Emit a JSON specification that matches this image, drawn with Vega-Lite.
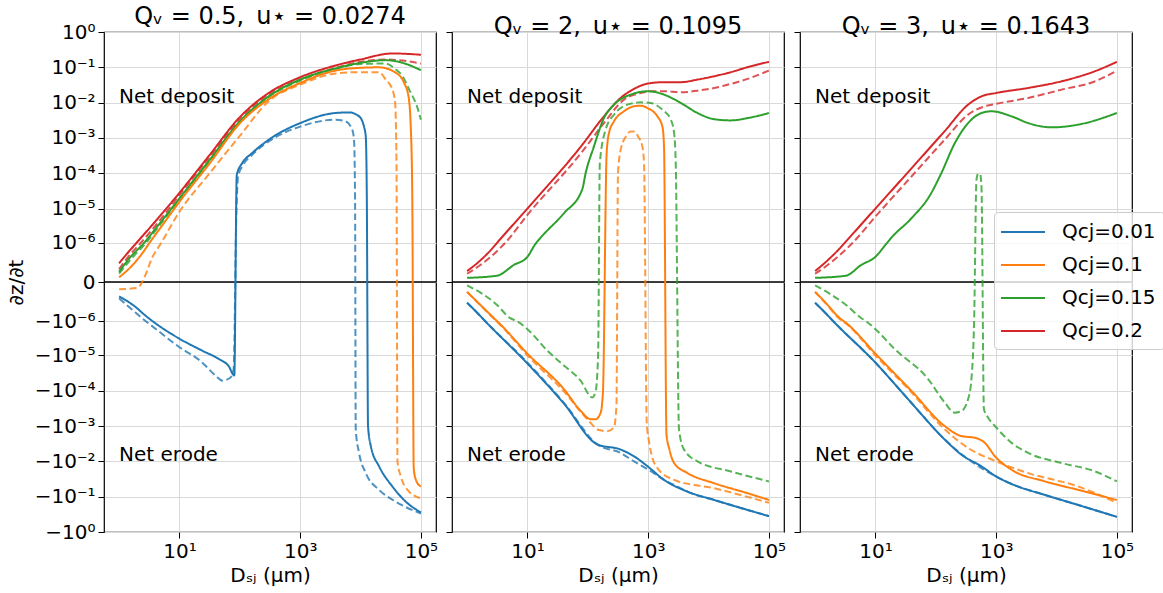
{
"$schema": "https://vega.github.io/schema/vega-lite/v6.json",
"padding": {"left": 5, "top": 4, "right": 5, "bottom": 0},
"config": {
  "font": "DejaVu Sans",
  "view": {"stroke": "black", "strokeWidth": 1.2},
  "axis": {"labelFontSize": 20, "titleFontSize": 20, "labelColor": "black", "titleColor": "black", "tickColor": "black", "tickSize": 6, "domain": false, "gridColor": "#d9d9d9", "gridWidth": 1, "labelFont": "DejaVu Sans", "titleFont": "DejaVu Sans", "titleFontWeight": "normal", "labelPadding": 3, "labelOverlap": false},
  "title": {"fontSize": 24, "font": "DejaVu Sans", "fontWeight": "normal", "color": "black", "offset": -7, "anchor": "middle", "frame": "group"},
  "legend": {"fillColor": "rgba(255,255,255,0.8)", "strokeColor": "#cccccc", "cornerRadius": 4, "padding": 8, "labelFontSize": 20, "labelFont": "DejaVu Sans", "labelColor": "black", "symbolStrokeWidth": 2, "symbolType": "M-2,0H2", "symbolSize": 484, "symbolOffset": 9, "rowPadding": 11, "labelOffset": 27}
},
"datasets": {"d": [
{"p":1,"c":"0.2","d":"s","x":1,"y":2e-7},{"p":1,"c":"0.2","d":"s","x":1.33,"y":4.3e-7},{"p":1,"c":"0.2","d":"s","x":1.95,"y":1e-6},{"p":1,"c":"0.2","d":"s","x":4,"y":4.3e-6},{"p":1,"c":"0.2","d":"s","x":10,"y":2.8e-5},{"p":1,"c":"0.2","d":"s","x":31.6,"y":3.3e-4},{"p":1,"c":"0.2","d":"s","x":100,"y":3.9e-3},{"p":1,"c":"0.2","d":"s","x":301,"y":0.0188},{"p":1,"c":"0.2","d":"s","x":1000,"y":0.0525},{"p":1,"c":"0.2","d":"s","x":3860,"y":0.113},{"p":1,"c":"0.2","d":"s","x":10000,"y":0.167},{"p":1,"c":"0.2","d":"s","x":33800,"y":0.247},{"p":1,"c":"0.2","d":"s","x":100000,"y":0.227},
{"p":1,"c":"0.2","d":"d","x":1,"y":1.1e-7},{"p":1,"c":"0.2","d":"d","x":1.42,"y":3.5e-7},{"p":1,"c":"0.2","d":"d","x":2.3,"y":1e-6},{"p":1,"c":"0.2","d":"d","x":4,"y":3.2e-6},{"p":1,"c":"0.2","d":"d","x":10,"y":2.4e-5},{"p":1,"c":"0.2","d":"d","x":31.6,"y":2.9e-4},{"p":1,"c":"0.2","d":"d","x":100,"y":3.4e-3},{"p":1,"c":"0.2","d":"d","x":301,"y":0.0169},{"p":1,"c":"0.2","d":"d","x":1000,"y":0.0451},{"p":1,"c":"0.2","d":"d","x":3860,"y":0.097},{"p":1,"c":"0.2","d":"d","x":10000,"y":0.143},{"p":1,"c":"0.2","d":"d","x":26200,"y":0.167},{"p":1,"c":"0.2","d":"d","x":50000,"y":0.155},{"p":1,"c":"0.2","d":"d","x":100000,"y":0.128},
{"p":1,"c":"0.15","d":"s","x":1,"y":8e-8},{"p":1,"c":"0.15","d":"s","x":1.5,"y":3.2e-7},{"p":1,"c":"0.15","d":"s","x":2.6,"y":1e-6},{"p":1,"c":"0.15","d":"s","x":4,"y":2.6e-6},{"p":1,"c":"0.15","d":"s","x":10,"y":1.95e-5},{"p":1,"c":"0.15","d":"s","x":31.6,"y":2.4e-4},{"p":1,"c":"0.15","d":"s","x":100,"y":2.95e-3},{"p":1,"c":"0.15","d":"s","x":301,"y":0.0151},{"p":1,"c":"0.15","d":"s","x":1000,"y":0.045},{"p":1,"c":"0.15","d":"s","x":3860,"y":0.093},{"p":1,"c":"0.15","d":"s","x":10000,"y":0.134},{"p":1,"c":"0.15","d":"s","x":26200,"y":0.16},{"p":1,"c":"0.15","d":"s","x":49600,"y":0.134},{"p":1,"c":"0.15","d":"s","x":100000,"y":0.083},
{"p":1,"c":"0.15","d":"d","x":1,"y":6e-8},{"p":1,"c":"0.15","d":"d","x":1.6,"y":3e-7},{"p":1,"c":"0.15","d":"d","x":2.8,"y":1e-6},{"p":1,"c":"0.15","d":"d","x":4,"y":2.3e-6},{"p":1,"c":"0.15","d":"d","x":10,"y":1.75e-5},{"p":1,"c":"0.15","d":"d","x":31.6,"y":2.2e-4},{"p":1,"c":"0.15","d":"d","x":100,"y":2.8e-3},{"p":1,"c":"0.15","d":"d","x":301,"y":0.0145},{"p":1,"c":"0.15","d":"d","x":1000,"y":0.042},{"p":1,"c":"0.15","d":"d","x":3860,"y":0.09},{"p":1,"c":"0.15","d":"d","x":10000,"y":0.125},{"p":1,"c":"0.15","d":"d","x":26200,"y":0.128},{"p":1,"c":"0.15","d":"d","x":38400,"y":0.087},{"p":1,"c":"0.15","d":"d","x":49600,"y":0.056},{"p":1,"c":"0.15","d":"d","x":64000,"y":0.0234},{"p":1,"c":"0.15","d":"d","x":88100,"y":0.007},{"p":1,"c":"0.15","d":"d","x":100000,"y":0.0033},
{"p":1,"c":"0.1","d":"s","x":1,"y":3e-8},{"p":1,"c":"0.1","d":"s","x":1.6,"y":1.5e-7},{"p":1,"c":"0.1","d":"s","x":2.4,"y":4.5e-7},{"p":1,"c":"0.1","d":"s","x":3.2,"y":1e-6},{"p":1,"c":"0.1","d":"s","x":5,"y":3e-6},{"p":1,"c":"0.1","d":"s","x":10,"y":1.56e-5},{"p":1,"c":"0.1","d":"s","x":31.6,"y":1.9e-4},{"p":1,"c":"0.1","d":"s","x":100,"y":2.6e-3},{"p":1,"c":"0.1","d":"s","x":301,"y":0.0125},{"p":1,"c":"0.1","d":"s","x":1000,"y":0.036},{"p":1,"c":"0.1","d":"s","x":3860,"y":0.081},{"p":1,"c":"0.1","d":"s","x":10000,"y":0.097},{"p":1,"c":"0.1","d":"s","x":20300,"y":0.1},{"p":1,"c":"0.1","d":"s","x":38400,"y":0.07},{"p":1,"c":"0.1","d":"s","x":52800,"y":0.036},{"p":1,"c":"0.1","d":"s","x":62300,"y":0.015},{"p":1,"c":"0.1","d":"s","x":68200,"y":0.0017},{"p":1,"c":"0.1","d":"s","x":72000,"y":2e-5},{"p":1,"c":"0.1","d":"s","x":76000,"y":-0.0155},{"p":1,"c":"0.1","d":"s","x":82600,"y":-0.0334},{"p":1,"c":"0.1","d":"s","x":100000,"y":-0.0518},
{"p":1,"c":"0.1","d":"d","x":1,"y":-5e-8},{"p":1,"c":"0.1","d":"d","x":2,"y":-4e-8},{"p":1,"c":"0.1","d":"d","x":2.69,"y":4e-8},{"p":1,"c":"0.1","d":"d","x":3.47,"y":3e-7},{"p":1,"c":"0.1","d":"d","x":5,"y":1e-6},{"p":1,"c":"0.1","d":"d","x":10,"y":8.1e-6},{"p":1,"c":"0.1","d":"d","x":31.6,"y":1e-4},{"p":1,"c":"0.1","d":"d","x":100,"y":1.15e-3},{"p":1,"c":"0.1","d":"d","x":301,"y":0.011},{"p":1,"c":"0.1","d":"d","x":1000,"y":0.0325},{"p":1,"c":"0.1","d":"d","x":3860,"y":0.067},{"p":1,"c":"0.1","d":"d","x":10000,"y":0.073},{"p":1,"c":"0.1","d":"d","x":20300,"y":0.073},{"p":1,"c":"0.1","d":"d","x":26200,"y":0.045},{"p":1,"c":"0.1","d":"d","x":33800,"y":0.0234},{"p":1,"c":"0.1","d":"d","x":37400,"y":0.0098},{"p":1,"c":"0.1","d":"d","x":39400,"y":1.9e-4},{"p":1,"c":"0.1","d":"d","x":40900,"y":-0.01},{"p":1,"c":"0.1","d":"d","x":46500,"y":-0.0268},{"p":1,"c":"0.1","d":"d","x":60000,"y":-0.0645},{"p":1,"c":"0.1","d":"d","x":100000,"y":-0.112},
{"p":1,"c":"0.01","d":"s","x":1,"y":-1.3e-7},{"p":1,"c":"0.01","d":"s","x":1.83,"y":-3.3e-7},{"p":1,"c":"0.01","d":"s","x":2.69,"y":-6.5e-7},{"p":1,"c":"0.01","d":"s","x":3.6,"y":-1e-6},{"p":1,"c":"0.01","d":"s","x":10,"y":-3.3e-6},{"p":1,"c":"0.01","d":"s","x":23.5,"y":-7.2e-6},{"p":1,"c":"0.01","d":"s","x":44.5,"y":-1.25e-5},{"p":1,"c":"0.01","d":"s","x":65.2,"y":-2e-5},{"p":1,"c":"0.01","d":"s","x":81,"y":-3.7e-5},{"p":1,"c":"0.01","d":"s","x":89,"y":9e-5},{"p":1,"c":"0.01","d":"s","x":109,"y":1.92e-4},{"p":1,"c":"0.01","d":"s","x":159,"y":3.7e-4},{"p":1,"c":"0.01","d":"s","x":301,"y":8.9e-4},{"p":1,"c":"0.01","d":"s","x":1000,"y":2.64e-3},{"p":1,"c":"0.01","d":"s","x":3860,"y":5.1e-3},{"p":1,"c":"0.01","d":"s","x":6440,"y":5.3e-3},{"p":1,"c":"0.01","d":"s","x":9450,"y":4.1e-3},{"p":1,"c":"0.01","d":"s","x":11400,"y":2.1e-3},{"p":1,"c":"0.01","d":"s","x":12200,"y":1.1e-3},{"p":1,"c":"0.01","d":"s","x":12700,"y":2.2e-5},{"p":1,"c":"0.01","d":"s","x":13300,"y":-1e-3},{"p":1,"c":"0.01","d":"s","x":14800,"y":-3.7e-3},{"p":1,"c":"0.01","d":"s","x":20300,"y":-0.0139},{"p":1,"c":"0.01","d":"s","x":33800,"y":-0.0518},{"p":1,"c":"0.01","d":"s","x":56300,"y":-0.139},{"p":1,"c":"0.01","d":"s","x":100000,"y":-0.28},
{"p":1,"c":"0.01","d":"d","x":1,"y":-1.6e-7},{"p":1,"c":"0.01","d":"d","x":1.61,"y":-4.1e-7},{"p":1,"c":"0.01","d":"d","x":2.52,"y":-8.7e-7},{"p":1,"c":"0.01","d":"d","x":3.25,"y":-1.25e-6},{"p":1,"c":"0.01","d":"d","x":10,"y":-5.8e-6},{"p":1,"c":"0.01","d":"d","x":23.5,"y":-1.55e-5},{"p":1,"c":"0.01","d":"d","x":39.2,"y":-3.7e-5},{"p":1,"c":"0.01","d":"d","x":51.5,"y":-5.2e-5},{"p":1,"c":"0.01","d":"d","x":69.5,"y":-4.3e-5},{"p":1,"c":"0.01","d":"d","x":79,"y":-2.4e-5},{"p":1,"c":"0.01","d":"d","x":87.5,"y":5.9e-6},{"p":1,"c":"0.01","d":"d","x":93.3,"y":8e-5},{"p":1,"c":"0.01","d":"d","x":109,"y":1.55e-4},{"p":1,"c":"0.01","d":"d","x":159,"y":3.3e-4},{"p":1,"c":"0.01","d":"d","x":301,"y":8e-4},{"p":1,"c":"0.01","d":"d","x":1000,"y":2.1e-3},{"p":1,"c":"0.01","d":"d","x":3860,"y":3.3e-3},{"p":1,"c":"0.01","d":"d","x":5660,"y":2.95e-3},{"p":1,"c":"0.01","d":"d","x":7310,"y":1.7e-3},{"p":1,"c":"0.01","d":"d","x":7800,"y":8.9e-4},{"p":1,"c":"0.01","d":"d","x":8110,"y":2.2e-5},{"p":1,"c":"0.01","d":"d","x":8320,"y":-1.24e-3},{"p":1,"c":"0.01","d":"d","x":9450,"y":-5.8e-3},{"p":1,"c":"0.01","d":"d","x":12200,"y":-0.0215},{"p":1,"c":"0.01","d":"d","x":20300,"y":-0.0645},{"p":1,"c":"0.01","d":"d","x":38400,"y":-0.139},{"p":1,"c":"0.01","d":"d","x":100000,"y":-0.3},
{"p":2,"c":"0.2","d":"s","x":1,"y":8.7e-8},{"p":2,"c":"0.2","d":"s","x":1.66,"y":2.6e-7},{"p":2,"c":"0.2","d":"s","x":2.43,"y":5.7e-7},{"p":2,"c":"0.2","d":"s","x":3.34,"y":1.14e-6},{"p":2,"c":"0.2","d":"s","x":10,"y":1e-5},{"p":2,"c":"0.2","d":"s","x":80.8,"y":6.4e-4},{"p":2,"c":"0.2","d":"s","x":185,"y":4.1e-3},{"p":2,"c":"0.2","d":"s","x":350,"y":0.0136},{"p":2,"c":"0.2","d":"s","x":583,"y":0.0245},{"p":2,"c":"0.2","d":"s","x":982,"y":0.0347},{"p":2,"c":"0.2","d":"s","x":1830,"y":0.038},{"p":2,"c":"0.2","d":"s","x":3470,"y":0.038},{"p":2,"c":"0.2","d":"s","x":6560,"y":0.045},{"p":2,"c":"0.2","d":"s","x":12400,"y":0.056},{"p":2,"c":"0.2","d":"s","x":23400,"y":0.073},{"p":2,"c":"0.2","d":"s","x":44400,"y":0.101},{"p":2,"c":"0.2","d":"s","x":100000,"y":0.143},
{"p":2,"c":"0.2","d":"d","x":1,"y":6e-8},{"p":2,"c":"0.2","d":"d","x":1.66,"y":1.7e-7},{"p":2,"c":"0.2","d":"d","x":3,"y":5e-7},{"p":2,"c":"0.2","d":"d","x":4.3,"y":1e-6},{"p":2,"c":"0.2","d":"d","x":10,"y":6.6e-6},{"p":2,"c":"0.2","d":"d","x":80.8,"y":4.1e-4},{"p":2,"c":"0.2","d":"d","x":185,"y":2.64e-3},{"p":2,"c":"0.2","d":"d","x":397,"y":0.0122},{"p":2,"c":"0.2","d":"d","x":752,"y":0.0188},{"p":2,"c":"0.2","d":"d","x":1100,"y":0.021},{"p":2,"c":"0.2","d":"d","x":1830,"y":0.021},{"p":2,"c":"0.2","d":"d","x":3470,"y":0.0196},{"p":2,"c":"0.2","d":"d","x":6560,"y":0.0219},{"p":2,"c":"0.2","d":"d","x":12400,"y":0.026},{"p":2,"c":"0.2","d":"d","x":23400,"y":0.034},{"p":2,"c":"0.2","d":"d","x":44400,"y":0.047},{"p":2,"c":"0.2","d":"d","x":100000,"y":0.081},
{"p":2,"c":"0.15","d":"s","x":1,"y":2.6e-8},{"p":2,"c":"0.15","d":"s","x":3.13,"y":4.3e-8},{"p":2,"c":"0.15","d":"s","x":5.93,"y":1.7e-7},{"p":2,"c":"0.15","d":"s","x":10,"y":3.5e-7},{"p":2,"c":"0.15","d":"s","x":13.5,"y":9.1e-7},{"p":2,"c":"0.15","d":"s","x":16.4,"y":1.4e-6},{"p":2,"c":"0.15","d":"s","x":40.1,"y":7.3e-6},{"p":2,"c":"0.15","d":"s","x":80.8,"y":3.5e-5},{"p":2,"c":"0.15","d":"s","x":91.9,"y":1e-4},{"p":2,"c":"0.15","d":"s","x":126,"y":5.7e-4},{"p":2,"c":"0.15","d":"s","x":185,"y":3.66e-3},{"p":2,"c":"0.15","d":"s","x":271,"y":8.8e-3},{"p":2,"c":"0.15","d":"s","x":513,"y":0.0169},{"p":2,"c":"0.15","d":"s","x":982,"y":0.021},{"p":2,"c":"0.15","d":"s","x":1830,"y":0.0169},{"p":2,"c":"0.15","d":"s","x":3470,"y":0.0098},{"p":2,"c":"0.15","d":"s","x":6560,"y":5.1e-3},{"p":2,"c":"0.15","d":"s","x":12400,"y":3.4e-3},{"p":2,"c":"0.15","d":"s","x":23400,"y":3.15e-3},{"p":2,"c":"0.15","d":"s","x":44400,"y":3.66e-3},{"p":2,"c":"0.15","d":"s","x":100000,"y":5.1e-3},
{"p":2,"c":"0.15","d":"d","x":1,"y":-2e-8},{"p":2,"c":"0.15","d":"d","x":3.13,"y":-2.9e-7},{"p":2,"c":"0.15","d":"d","x":5.1,"y":-7.9e-7},{"p":2,"c":"0.15","d":"d","x":6.7,"y":-1e-6},{"p":2,"c":"0.15","d":"d","x":10,"y":-1.73e-6},{"p":2,"c":"0.15","d":"d","x":21.2,"y":-7.2e-6},{"p":2,"c":"0.15","d":"d","x":40.1,"y":-1.93e-5},{"p":2,"c":"0.15","d":"d","x":76,"y":-5.2e-5},{"p":2,"c":"0.15","d":"d","x":118,"y":-1.55e-4},{"p":2,"c":"0.15","d":"d","x":134,"y":-1.1e-4},{"p":2,"c":"0.15","d":"d","x":148,"y":-1e-5},{"p":2,"c":"0.15","d":"d","x":158,"y":1.9e-4},{"p":2,"c":"0.15","d":"d","x":197,"y":1.71e-3},{"p":2,"c":"0.15","d":"d","x":271,"y":4.56e-3},{"p":2,"c":"0.15","d":"d","x":452,"y":8.8e-3},{"p":2,"c":"0.15","d":"d","x":752,"y":0.0102},{"p":2,"c":"0.15","d":"d","x":1100,"y":9.8e-3},{"p":2,"c":"0.15","d":"d","x":1720,"y":6.3e-3},{"p":2,"c":"0.15","d":"d","x":2370,"y":3.3e-3},{"p":2,"c":"0.15","d":"d","x":2690,"y":1.37e-3},{"p":2,"c":"0.15","d":"d","x":2860,"y":1.9e-4},{"p":2,"c":"0.15","d":"d","x":3240,"y":-1.24e-3},{"p":2,"c":"0.15","d":"d","x":3920,"y":-4.64e-3},{"p":2,"c":"0.15","d":"d","x":6560,"y":-0.01},{"p":2,"c":"0.15","d":"d","x":23400,"y":-0.0193},{"p":2,"c":"0.15","d":"d","x":100000,"y":-0.037},
{"p":2,"c":"0.1","d":"s","x":1,"y":-7.6e-8},{"p":2,"c":"0.1","d":"s","x":1.66,"y":-2.9e-7},{"p":2,"c":"0.1","d":"s","x":2.76,"y":-7.9e-7},{"p":2,"c":"0.1","d":"s","x":3.57,"y":-1.25e-6},{"p":2,"c":"0.1","d":"s","x":10,"y":-8.9e-6},{"p":2,"c":"0.1","d":"s","x":40.1,"y":-9e-5},{"p":2,"c":"0.1","d":"s","x":75.8,"y":-3.7e-4},{"p":2,"c":"0.1","d":"s","x":111,"y":-6.4e-4},{"p":2,"c":"0.1","d":"s","x":135,"y":-6.4e-4},{"p":2,"c":"0.1","d":"s","x":163,"y":-4.2e-4},{"p":2,"c":"0.1","d":"s","x":178,"y":-1.1e-4},{"p":2,"c":"0.1","d":"s","x":205,"y":3.7e-4},{"p":2,"c":"0.1","d":"s","x":224,"y":1.37e-3},{"p":2,"c":"0.1","d":"s","x":271,"y":2.95e-3},{"p":2,"c":"0.1","d":"s","x":397,"y":5.7e-3},{"p":2,"c":"0.1","d":"s","x":583,"y":7.9e-3},{"p":2,"c":"0.1","d":"s","x":752,"y":8.2e-3},{"p":2,"c":"0.1","d":"s","x":970,"y":7.05e-3},{"p":2,"c":"0.1","d":"s","x":1420,"y":4.1e-3},{"p":2,"c":"0.1","d":"s","x":1720,"y":2.1e-3},{"p":2,"c":"0.1","d":"s","x":1830,"y":5.7e-4},{"p":2,"c":"0.1","d":"s","x":2010,"y":-1.73e-3},{"p":2,"c":"0.1","d":"s","x":2250,"y":-4.64e-3},{"p":2,"c":"0.1","d":"s","x":2690,"y":-0.0112},{"p":2,"c":"0.1","d":"s","x":4480,"y":-0.0215},{"p":2,"c":"0.1","d":"s","x":12400,"y":-0.0416},{"p":2,"c":"0.1","d":"s","x":44400,"y":-0.08},{"p":2,"c":"0.1","d":"s","x":100000,"y":-0.124},
{"p":2,"c":"0.1","d":"d","x":1,"y":-7.6e-8},{"p":2,"c":"0.1","d":"d","x":1.66,"y":-3e-7},{"p":2,"c":"0.1","d":"d","x":2.76,"y":-8.2e-7},{"p":2,"c":"0.1","d":"d","x":3.57,"y":-1.3e-6},{"p":2,"c":"0.1","d":"d","x":10,"y":-1e-5},{"p":2,"c":"0.1","d":"d","x":40.1,"y":-1.05e-4},{"p":2,"c":"0.1","d":"d","x":98,"y":-6.4e-4},{"p":2,"c":"0.1","d":"d","x":153,"y":-1.3e-3},{"p":2,"c":"0.1","d":"d","x":210,"y":-1.4e-3},{"p":2,"c":"0.1","d":"d","x":271,"y":-1.1e-3},{"p":2,"c":"0.1","d":"d","x":298,"y":-2.7e-4},{"p":2,"c":"0.1","d":"d","x":316,"y":1e-4},{"p":2,"c":"0.1","d":"d","x":350,"y":4.6e-4},{"p":2,"c":"0.1","d":"d","x":427,"y":1.1e-3},{"p":2,"c":"0.1","d":"d","x":513,"y":1.53e-3},{"p":2,"c":"0.1","d":"d","x":590,"y":1.53e-3},{"p":2,"c":"0.1","d":"d","x":680,"y":1.1e-3},{"p":2,"c":"0.1","d":"d","x":800,"y":5.8e-4},{"p":2,"c":"0.1","d":"d","x":854,"y":1.9e-4},{"p":2,"c":"0.1","d":"d","x":946,"y":-8e-4},{"p":2,"c":"0.1","d":"d","x":1040,"y":-3e-3},{"p":2,"c":"0.1","d":"d","x":1150,"y":-7e-3},{"p":2,"c":"0.1","d":"d","x":1420,"y":-0.0155},{"p":2,"c":"0.1","d":"d","x":2690,"y":-0.0334},{"p":2,"c":"0.1","d":"d","x":12400,"y":-0.058},{"p":2,"c":"0.1","d":"d","x":100000,"y":-0.149},
{"p":2,"c":"0.01","d":"s","x":1,"y":-2.4e-7},{"p":2,"c":"0.01","d":"s","x":1.47,"y":-5.4e-7},{"p":2,"c":"0.01","d":"s","x":2,"y":-1e-6},{"p":2,"c":"0.01","d":"s","x":10,"y":-1.7e-5},{"p":2,"c":"0.01","d":"s","x":40.1,"y":-2.3e-4},{"p":2,"c":"0.01","d":"s","x":143,"y":-3.3e-3},{"p":2,"c":"0.01","d":"s","x":350,"y":-4.64e-3},{"p":2,"c":"0.01","d":"s","x":583,"y":-7.2e-3},{"p":2,"c":"0.01","d":"s","x":982,"y":-0.0139},{"p":2,"c":"0.01","d":"s","x":1830,"y":-0.0334},{"p":2,"c":"0.01","d":"s","x":4480,"y":-0.072},{"p":2,"c":"0.01","d":"s","x":12400,"y":-0.124},{"p":2,"c":"0.01","d":"s","x":100000,"y":-0.356},
{"p":2,"c":"0.01","d":"d","x":1,"y":-2.4e-7},{"p":2,"c":"0.01","d":"d","x":1.47,"y":-5.4e-7},{"p":2,"c":"0.01","d":"d","x":2,"y":-1e-6},{"p":2,"c":"0.01","d":"d","x":10,"y":-1.6e-5},{"p":2,"c":"0.01","d":"d","x":40.1,"y":-2.2e-4},{"p":2,"c":"0.01","d":"d","x":143,"y":-3.3e-3},{"p":2,"c":"0.01","d":"d","x":350,"y":-5.8e-3},{"p":2,"c":"0.01","d":"d","x":583,"y":-0.01},{"p":2,"c":"0.01","d":"d","x":982,"y":-0.0168},{"p":2,"c":"0.01","d":"d","x":1830,"y":-0.0334},{"p":2,"c":"0.01","d":"d","x":3470,"y":-0.058},{"p":2,"c":"0.01","d":"d","x":4480,"y":-0.072},{"p":2,"c":"0.01","d":"d","x":12400,"y":-0.124},{"p":2,"c":"0.01","d":"d","x":100000,"y":-0.356},
{"p":3,"c":"0.2","d":"s","x":1,"y":8.7e-8},{"p":3,"c":"0.2","d":"s","x":1.61,"y":2.6e-7},{"p":3,"c":"0.2","d":"s","x":2.37,"y":5.7e-7},{"p":3,"c":"0.2","d":"s","x":3.25,"y":1.1e-6},{"p":3,"c":"0.2","d":"s","x":10,"y":1e-5},{"p":3,"c":"0.2","d":"s","x":39.2,"y":1.36e-4},{"p":3,"c":"0.2","d":"s","x":140,"y":1.56e-3},{"p":3,"c":"0.2","d":"s","x":343,"y":8.8e-3},{"p":3,"c":"0.2","d":"s","x":571,"y":0.0151},{"p":3,"c":"0.2","d":"s","x":1000,"y":0.0188},{"p":3,"c":"0.2","d":"s","x":3400,"y":0.0261},{"p":3,"c":"0.2","d":"s","x":12200,"y":0.0404},{"p":3,"c":"0.2","d":"s","x":43600,"y":0.078},{"p":3,"c":"0.2","d":"s","x":100000,"y":0.143},
{"p":3,"c":"0.2","d":"d","x":1,"y":6e-8},{"p":3,"c":"0.2","d":"d","x":1.61,"y":1.7e-7},{"p":3,"c":"0.2","d":"d","x":3.1,"y":5.7e-7},{"p":3,"c":"0.2","d":"d","x":4.2,"y":1e-6},{"p":3,"c":"0.2","d":"d","x":10,"y":5.9e-6},{"p":3,"c":"0.2","d":"d","x":39.2,"y":8e-5},{"p":3,"c":"0.2","d":"d","x":140,"y":8.9e-4},{"p":3,"c":"0.2","d":"d","x":343,"y":4.6e-3},{"p":3,"c":"0.2","d":"d","x":649,"y":7.9e-3},{"p":3,"c":"0.2","d":"d","x":1000,"y":9.3e-3},{"p":3,"c":"0.2","d":"d","x":3400,"y":0.0136},{"p":3,"c":"0.2","d":"d","x":12200,"y":0.0234},{"p":3,"c":"0.2","d":"d","x":43600,"y":0.0404},{"p":3,"c":"0.2","d":"d","x":100000,"y":0.081},
{"p":3,"c":"0.15","d":"s","x":1,"y":2.6e-8},{"p":3,"c":"0.15","d":"s","x":3.25,"y":4.3e-8},{"p":3,"c":"0.15","d":"s","x":5.78,"y":1.7e-7},{"p":3,"c":"0.15","d":"s","x":10,"y":3.5e-7},{"p":3,"c":"0.15","d":"s","x":15,"y":9.1e-7},{"p":3,"c":"0.15","d":"s","x":18.2,"y":1.4e-6},{"p":3,"c":"0.15","d":"s","x":39.2,"y":5.2e-6},{"p":3,"c":"0.15","d":"s","x":79,"y":2.3e-5},{"p":3,"c":"0.15","d":"s","x":123,"y":1e-4},{"p":3,"c":"0.15","d":"s","x":206,"y":7.1e-4},{"p":3,"c":"0.15","d":"s","x":343,"y":2.64e-3},{"p":3,"c":"0.15","d":"s","x":571,"y":5.1e-3},{"p":3,"c":"0.15","d":"s","x":836,"y":5.7e-3},{"p":3,"c":"0.15","d":"s","x":1800,"y":4.1e-3},{"p":3,"c":"0.15","d":"s","x":3400,"y":2.64e-3},{"p":3,"c":"0.15","d":"s","x":8300,"y":2e-3},{"p":3,"c":"0.15","d":"s","x":23100,"y":2.4e-3},{"p":3,"c":"0.15","d":"s","x":100000,"y":5.1e-3},
{"p":3,"c":"0.15","d":"d","x":1,"y":-2e-8},{"p":3,"c":"0.15","d":"d","x":3.25,"y":-2.9e-7},{"p":3,"c":"0.15","d":"d","x":5.78,"y":-7.9e-7},{"p":3,"c":"0.15","d":"d","x":7,"y":-1e-6},{"p":3,"c":"0.15","d":"d","x":10,"y":-1.73e-6},{"p":3,"c":"0.15","d":"d","x":20.7,"y":-6.5e-6},{"p":3,"c":"0.15","d":"d","x":74,"y":-4.6e-5},{"p":3,"c":"0.15","d":"d","x":140,"y":-2.15e-4},{"p":3,"c":"0.15","d":"d","x":206,"y":-4.2e-4},{"p":3,"c":"0.15","d":"d","x":265,"y":-3.8e-4},{"p":3,"c":"0.15","d":"d","x":343,"y":-1.73e-4},{"p":3,"c":"0.15","d":"d","x":389,"y":-4.6e-5},{"p":3,"c":"0.15","d":"d","x":432,"y":-8e-7},{"p":3,"c":"0.15","d":"d","x":471,"y":6.5e-5},{"p":3,"c":"0.15","d":"d","x":502,"y":9.8e-5},{"p":3,"c":"0.15","d":"d","x":543,"y":9.4e-5},{"p":3,"c":"0.15","d":"d","x":571,"y":4e-5},{"p":3,"c":"0.15","d":"d","x":626,"y":-3.3e-4},{"p":3,"c":"0.15","d":"d","x":736,"y":-5.8e-4},{"p":3,"c":"0.15","d":"d","x":955,"y":-1e-3},{"p":3,"c":"0.15","d":"d","x":1800,"y":-3e-3},{"p":3,"c":"0.15","d":"d","x":3400,"y":-5.8e-3},{"p":3,"c":"0.15","d":"d","x":12200,"y":-0.0112},{"p":3,"c":"0.15","d":"d","x":43600,"y":-0.0193},{"p":3,"c":"0.15","d":"d","x":100000,"y":-0.037},
{"p":3,"c":"0.1","d":"s","x":1,"y":-7.6e-8},{"p":3,"c":"0.1","d":"s","x":1.61,"y":-2.9e-7},{"p":3,"c":"0.1","d":"s","x":2.37,"y":-7e-7},{"p":3,"c":"0.1","d":"s","x":3.5,"y":-1.25e-6},{"p":3,"c":"0.1","d":"s","x":10,"y":-8.9e-6},{"p":3,"c":"0.1","d":"s","x":39.2,"y":-1e-4},{"p":3,"c":"0.1","d":"s","x":140,"y":-1e-3},{"p":3,"c":"0.1","d":"s","x":265,"y":-1.93e-3},{"p":3,"c":"0.1","d":"s","x":442,"y":-2.15e-3},{"p":3,"c":"0.1","d":"s","x":649,"y":-3e-3},{"p":3,"c":"0.1","d":"s","x":955,"y":-7.2e-3},{"p":3,"c":"0.1","d":"s","x":1800,"y":-0.0173},{"p":3,"c":"0.1","d":"s","x":6440,"y":-0.037},{"p":3,"c":"0.1","d":"s","x":23100,"y":-0.0645},{"p":3,"c":"0.1","d":"s","x":100000,"y":-0.124},
{"p":3,"c":"0.1","d":"d","x":1,"y":-7.6e-8},{"p":3,"c":"0.1","d":"d","x":1.61,"y":-3e-7},{"p":3,"c":"0.1","d":"d","x":2.37,"y":-7.5e-7},{"p":3,"c":"0.1","d":"d","x":3.5,"y":-1.3e-6},{"p":3,"c":"0.1","d":"d","x":10,"y":-1e-5},{"p":3,"c":"0.1","d":"d","x":39.2,"y":-1.1e-4},{"p":3,"c":"0.1","d":"d","x":140,"y":-1.24e-3},{"p":3,"c":"0.1","d":"d","x":343,"y":-4.2e-3},{"p":3,"c":"0.1","d":"d","x":1000,"y":-0.01},{"p":3,"c":"0.1","d":"d","x":3400,"y":-0.0215},{"p":3,"c":"0.1","d":"d","x":23100,"y":-0.0518},{"p":3,"c":"0.1","d":"d","x":100000,"y":-0.149},
{"p":3,"c":"0.01","d":"s","x":1,"y":-2.4e-7},{"p":3,"c":"0.01","d":"s","x":1.47,"y":-5.4e-7},{"p":3,"c":"0.01","d":"s","x":2,"y":-1e-6},{"p":3,"c":"0.01","d":"s","x":10,"y":-1.6e-5},{"p":3,"c":"0.01","d":"s","x":39.2,"y":-2.2e-4},{"p":3,"c":"0.01","d":"s","x":140,"y":-2.4e-3},{"p":3,"c":"0.01","d":"s","x":265,"y":-6.45e-3},{"p":3,"c":"0.01","d":"s","x":571,"y":-0.0139},{"p":3,"c":"0.01","d":"s","x":1000,"y":-0.0268},{"p":3,"c":"0.01","d":"s","x":1800,"y":-0.0437},{"p":3,"c":"0.01","d":"s","x":6440,"y":-0.0895},{"p":3,"c":"0.01","d":"s","x":23100,"y":-0.173},{"p":3,"c":"0.01","d":"s","x":100000,"y":-0.373},
{"p":3,"c":"0.01","d":"d","x":1,"y":-2.4e-7},{"p":3,"c":"0.01","d":"d","x":1.47,"y":-5.4e-7},{"p":3,"c":"0.01","d":"d","x":2,"y":-1e-6},{"p":3,"c":"0.01","d":"d","x":10,"y":-1.6e-5},{"p":3,"c":"0.01","d":"d","x":39.2,"y":-2.2e-4},{"p":3,"c":"0.01","d":"d","x":140,"y":-2.4e-3},{"p":3,"c":"0.01","d":"d","x":343,"y":-8.7e-3},{"p":3,"c":"0.01","d":"d","x":571,"y":-0.0155},{"p":3,"c":"0.01","d":"d","x":1000,"y":-0.027},{"p":3,"c":"0.01","d":"d","x":1800,"y":-0.0437},{"p":3,"c":"0.01","d":"d","x":6440,"y":-0.0895},{"p":3,"c":"0.01","d":"d","x":23100,"y":-0.173},{"p":3,"c":"0.01","d":"d","x":100000,"y":-0.373}
],
"txt": [{"x":1,"y":0.01,"t":"Net deposit"},{"x":1,"y":-0.01,"t":"Net erode"}]
},
"spacing": 16,
"bounds": "flush",
"hconcat": [
 {"width": 332, "height": 500, "title": "Qᵥ = 0.5,\u2002u⋆ = 0.0274",
  "layer": [
   {"data": {"values": [{"z": 0}]}, "mark": {"type": "rule", "color": "black", "strokeWidth": 1.5}, "encoding": {"y": {"field": "z", "type": "quantitative"}}},
   {"data": {"name": "d"}, "transform": [{"filter": "datum.p == 1"}],
    "mark": {"type": "line", "strokeWidth": 2, "interpolate": "monotone"},
    "encoding": {
     "x": {"field": "x", "type": "quantitative", "scale": {"type": "log", "domain": [0.5623, 177828], "nice": false}, "axis": {"values": [10, 1000, 100000], "tickCount": 20, "labelExpr": "'10' + (datum.value == 10 ? '¹' : datum.value == 1000 ? '³' : '⁵')", "title": "Dₛⱼ (μm)", "grid": true, "labelOverlap": false}},
     "y": {"field": "y", "type": "quantitative", "scale": {"type": "symlog", "constant": 8.4e-8, "domain": [-1, 1], "nice": false}, "axis": {"values": [1, 0.1, 0.01, 0.001, 0.0001, 1e-5, 1e-6, 0, -1e-6, -1e-5, -0.0001, -0.001, -0.01, -0.1, -1], "tickCount": 20, "labelExpr": "datum.value == 0 ? '0' : (datum.value > 0 ? '10' : '−10') + ['⁰','⁻¹','⁻²','⁻³','⁻⁴','⁻⁵','⁻⁶'][round(-log(abs(datum.value))/LN10)]", "title": "∂z/∂t", "grid": true, "titlePadding": 8, "labelOverlap": false}},
     "color": {"field": "c", "type": "nominal", "scale": {"domain": ["0.01", "0.1", "0.15", "0.2"], "range": ["#1f77b4", "#ff7f0e", "#2ca02c", "#d62728"]}, "legend": {"title": null, "orient": "none", "legendX": 890, "legendY": 180, "labelExpr": "'Qcj=' + datum.label"}},
     "strokeDash": {"field": "d", "type": "nominal", "scale": {"domain": ["s", "d"], "range": [[1, 0], [7, 3.5]]}, "legend": null},
     "opacity": {"field": "d", "type": "nominal", "scale": {"domain": ["s", "d"], "range": [1, 0.8]}, "legend": null}
    }},
   {"data": {"name": "txt"}, "mark": {"type": "text", "align": "left", "baseline": "alphabetic", "fontSize": 20, "color": "black"}, "encoding": {"x": {"field": "x", "type": "quantitative"}, "y": {"field": "y", "type": "quantitative"}, "text": {"field": "t"}}}
  ]},
 {"width": 332, "height": 500, "title": "Qᵥ = 2,\u2002u⋆ = 0.1095",
  "layer": [
   {"data": {"values": [{"z": 0}]}, "mark": {"type": "rule", "color": "black", "strokeWidth": 1.5}, "encoding": {"y": {"field": "z", "type": "quantitative"}}},
   {"data": {"name": "d"}, "transform": [{"filter": "datum.p == 2"}],
    "mark": {"type": "line", "strokeWidth": 2, "interpolate": "monotone"},
    "encoding": {
     "x": {"field": "x", "type": "quantitative", "scale": {"type": "log", "domain": [0.5623, 177828], "nice": false}, "axis": {"values": [10, 1000, 100000], "tickCount": 20, "labelExpr": "'10' + (datum.value == 10 ? '¹' : datum.value == 1000 ? '³' : '⁵')", "title": "Dₛⱼ (μm)", "grid": true, "labelOverlap": false}},
     "y": {"field": "y", "type": "quantitative", "scale": {"type": "symlog", "constant": 8.4e-8, "domain": [-1, 1], "nice": false}, "axis": {"values": [1, 0.1, 0.01, 0.001, 0.0001, 1e-5, 1e-6, 0, -1e-6, -1e-5, -0.0001, -0.001, -0.01, -0.1, -1], "tickCount": 20, "labels": false, "title": null, "grid": true}},
     "color": {"field": "c", "type": "nominal", "scale": {"domain": ["0.01", "0.1", "0.15", "0.2"], "range": ["#1f77b4", "#ff7f0e", "#2ca02c", "#d62728"]}, "legend": {"title": null, "orient": "none", "legendX": 890, "legendY": 180, "labelExpr": "'Qcj=' + datum.label"}},
     "strokeDash": {"field": "d", "type": "nominal", "scale": {"domain": ["s", "d"], "range": [[1, 0], [7, 3.5]]}, "legend": null},
     "opacity": {"field": "d", "type": "nominal", "scale": {"domain": ["s", "d"], "range": [1, 0.8]}, "legend": null}
    }},
   {"data": {"name": "txt"}, "mark": {"type": "text", "align": "left", "baseline": "alphabetic", "fontSize": 20, "color": "black"}, "encoding": {"x": {"field": "x", "type": "quantitative"}, "y": {"field": "y", "type": "quantitative"}, "text": {"field": "t"}}}
  ]},
 {"width": 332, "height": 500, "title": "Qᵥ = 3,\u2002u⋆ = 0.1643",
  "layer": [
   {"data": {"values": [{"z": 0}]}, "mark": {"type": "rule", "color": "black", "strokeWidth": 1.5}, "encoding": {"y": {"field": "z", "type": "quantitative"}}},
   {"data": {"name": "d"}, "transform": [{"filter": "datum.p == 3"}],
    "mark": {"type": "line", "strokeWidth": 2, "interpolate": "monotone"},
    "encoding": {
     "x": {"field": "x", "type": "quantitative", "scale": {"type": "log", "domain": [0.5623, 177828], "nice": false}, "axis": {"values": [10, 1000, 100000], "tickCount": 20, "labelExpr": "'10' + (datum.value == 10 ? '¹' : datum.value == 1000 ? '³' : '⁵')", "title": "Dₛⱼ (μm)", "grid": true, "labelOverlap": false}},
     "y": {"field": "y", "type": "quantitative", "scale": {"type": "symlog", "constant": 8.4e-8, "domain": [-1, 1], "nice": false}, "axis": {"values": [1, 0.1, 0.01, 0.001, 0.0001, 1e-5, 1e-6, 0, -1e-6, -1e-5, -0.0001, -0.001, -0.01, -0.1, -1], "tickCount": 20, "labels": false, "title": null, "grid": true}},
     "color": {"field": "c", "type": "nominal", "scale": {"domain": ["0.01", "0.1", "0.15", "0.2"], "range": ["#1f77b4", "#ff7f0e", "#2ca02c", "#d62728"]}, "legend": {"title": null, "orient": "none", "legendX": 890, "legendY": 180, "labelExpr": "'Qcj=' + datum.label"}},
     "strokeDash": {"field": "d", "type": "nominal", "scale": {"domain": ["s", "d"], "range": [[1, 0], [7, 3.5]]}, "legend": null},
     "opacity": {"field": "d", "type": "nominal", "scale": {"domain": ["s", "d"], "range": [1, 0.8]}, "legend": null}
    }},
   {"data": {"name": "txt"}, "mark": {"type": "text", "align": "left", "baseline": "alphabetic", "fontSize": 20, "color": "black"}, "encoding": {"x": {"field": "x", "type": "quantitative"}, "y": {"field": "y", "type": "quantitative"}, "text": {"field": "t"}}}
  ]}
],
"resolve": {"scale": {"color": "shared", "strokeDash": "shared", "opacity": "shared"}, "legend": {"color": "shared"}}
}
